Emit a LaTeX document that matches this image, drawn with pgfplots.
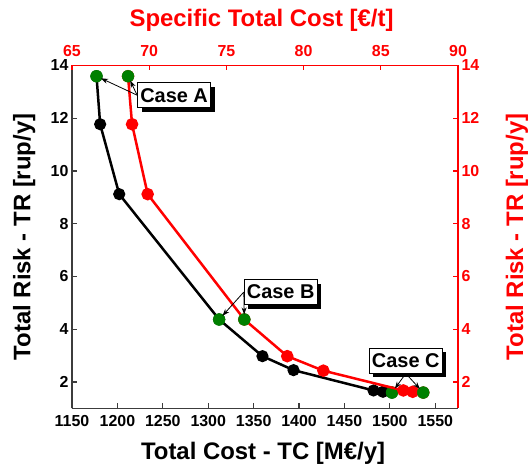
\documentclass[border=0pt]{standalone}
\usepackage{fontspec}
\setmainfont{Liberation Sans}
\usepackage{pgfplots}
\pgfplotsset{compat=1.18}
\usetikzlibrary{shadows,arrows.meta,calc}
\definecolor{dgreen}{RGB}{0,128,0}
\definecolor{axgray}{RGB}{60,60,60}
\begin{document}
\begin{tikzpicture}
\pgfplotsset{every axis/.append style={
  scale only axis, width=386bp, height=343bp,
  at={(0,0)}, anchor=south west,
  /pgf/number format/assume math mode=true,
  /pgf/number format/1000 sep={},
  tick align=inside, major tick length=5bp,
  ymin=1, ymax=14, ytick={2,4,...,14},
  ticklabel style={font=\fontsize{16}{18}\selectfont\bfseries},
  label style={font=\fontsize{24}{28}\selectfont\bfseries},
}}
\begin{axis}[name=ax1,
  xmin=1150, xmax=1575, xtick={1150,1200,...,1550},
  axis x line*=bottom, axis y line*=left,
  axis line style={-, axgray, line width=1.6bp},
  tick style={axgray, line width=1.2bp},
  xticklabel style={yshift=-3bp},
  xlabel={Total Cost - TC [M€/y]},
  ylabel={Total Risk - TR [rup/y]},
  xlabel style={at={(axis description cs:0.495,-0.13)}, anchor=center},
  ylabel style={at={(axis description cs:-0.124,0.5)}, anchor=center},
]
\addplot[black, line width=2.5bp, mark=*, mark size=4.8bp, mark options={fill=black}] coordinates {
(1177,13.59) (1181,11.77) (1202,9.12) (1312,4.37) (1359.7,2.98) (1393.9,2.45) (1482,1.68) (1492.4,1.63) (1502.3,1.6)};
\addplot[only marks, mark=*, mark size=6bp, dgreen, mark options={fill=dgreen}] coordinates {
(1177,13.59) (1312,4.37) (1502.3,1.6)};
\coordinate (gA1) at (axis cs:1177,13.59);
\coordinate (gB1) at (axis cs:1312,4.37);
\coordinate (gC1) at (axis cs:1502.3,1.6);
\coordinate (boxA) at (axis cs:1262.4,12.87);
\coordinate (boxB) at (axis cs:1379.8,5.41);
\coordinate (boxC) at (axis cs:1517.5,2.81);
\end{axis}
\begin{axis}[name=ax2,
  xmin=65, xmax=90, xtick={65,70,...,90},
  axis x line*=top, axis y line*=right,
  axis line style={-, red, line width=1.2bp},
  tick style={red, line width=1.2bp},
  ticklabel style={red},
  xticklabel style={yshift=5bp},
  xlabel={Specific Total Cost [€/t]},
  ylabel={Total Risk - TR [rup/y]},
  label style={red},
  xlabel style={at={(axis description cs:0.491,1.131)}, anchor=center},
  ylabel style={at={(axis description cs:1.153,0.5)}, anchor=center},
]
\addplot[red, line width=2.5bp, mark=*, mark size=5bp, mark options={fill=red}] coordinates {
(68.63,13.59) (68.89,11.77) (69.90,9.12) (76.16,4.37) (78.94,2.98) (81.28,2.43) (86.46,1.68) (87.07,1.63) (87.75,1.6)};
\addplot[only marks, mark=*, mark size=6bp, dgreen, mark options={fill=dgreen}] coordinates {
(68.63,13.59) (76.16,4.37) (87.75,1.6)};
\coordinate (gA2) at (axis cs:68.63,13.59);
\coordinate (gB2) at (axis cs:76.16,4.37);
\coordinate (gC2) at (axis cs:87.75,1.6);
\end{axis}
\tikzset{casebox/.style={draw=black, line width=0.8bp, fill=white,
  drop shadow={shadow xshift=4bp, shadow yshift=-4bp, opacity=1, fill=black},
  minimum width=73bp, minimum height=25bp, inner sep=1bp,
  font=\fontsize{20}{22}\selectfont\bfseries},
  casearrow/.style={-{Stealth[length=7bp,width=5bp]}, line width=0.8bp, shorten >=5bp}}
\node[casebox] (bA) at (boxA) {Case A};
\node[casebox] (bB) at (boxB) {Case B};
\node[casebox] (bC) at (boxC) {Case C};
\draw[casearrow] (bA.west) -- (gA1);
\draw[casearrow] (bA.west) -- (gA2);
\draw[casearrow] (bB.west) -- (gB1);
\draw[casearrow] (bB.west) -- (gB2);
\draw[casearrow] (bC.south) -- (gC1);
\draw[casearrow] (bC.south) -- (gC2);
\pgfresetboundingbox
\path[use as bounding box] ($(ax1.south west)+(-72bp,-57.6bp)$) rectangle ++(529bp,466bp);
\end{tikzpicture}
\end{document}
